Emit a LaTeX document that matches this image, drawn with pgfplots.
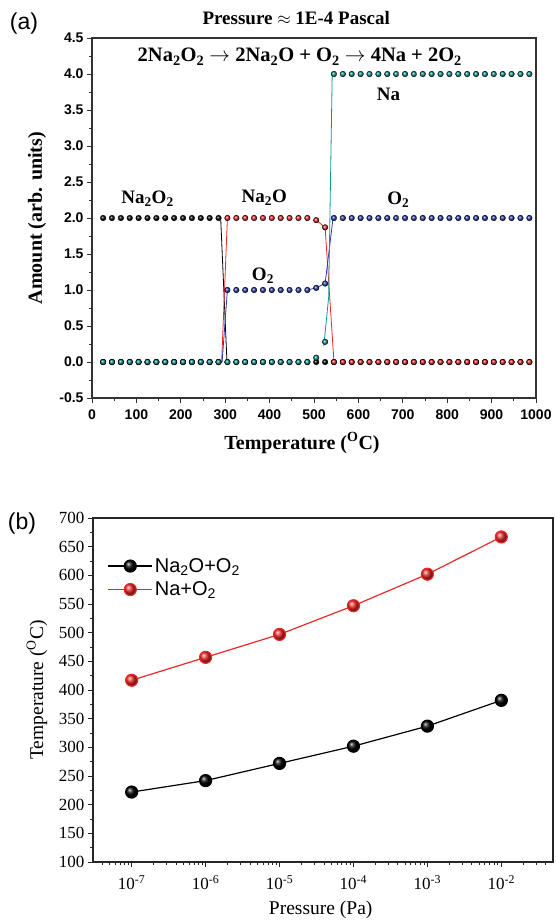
\documentclass[border=0pt]{standalone}
\usepackage{fontspec}
\setmainfont{Liberation Serif}
\setsansfont{Liberation Sans}
\usepackage{pgfplots}
\usepackage{pgfplotstable}
\pgfplotsset{compat=1.18}
\definecolor{cred}{RGB}{235,40,40}
\definecolor{cblue}{RGB}{45,60,170}
\definecolor{cteal}{RGB}{15,150,145}

\pgfplotstableread{
x k r b t
25 2 0 0 0
45 2 0 0 0
65 2 0 0 0
85 2 0 0 0
105 2 0 0 0
125 2 0 0 0
145 2 0 0 0
165 2 0 0 0
185 2 0 0 0
205 2 0 0 0
225 2 0 0 0
245 2 0 0 0
265 2 0 0 0
285 2 0 0 0
305 0 2 1 0
325 0 2 1 0
345 0 2 1 0
365 0 2 1 0
385 0 2 1 0
405 0 2 1 0
425 0 2 1 0
445 0 2 1 0
465 0 2 1 0
485 0 2 1 0
505 0 1.97 1.03 0.06
525 0 1.87 1.09 0.28
545 0 0 2 4
565 0 0 2 4
585 0 0 2 4
605 0 0 2 4
625 0 0 2 4
645 0 0 2 4
665 0 0 2 4
685 0 0 2 4
705 0 0 2 4
725 0 0 2 4
745 0 0 2 4
765 0 0 2 4
785 0 0 2 4
805 0 0 2 4
825 0 0 2 4
845 0 0 2 4
865 0 0 2 4
885 0 0 2 4
905 0 0 2 4
925 0 0 2 4
945 0 0 2 4
965 0 0 2 4
985 0 0 2 4
}\dataA

\begin{document}
\begin{tikzpicture}
\useasboundingbox (0,0) rectangle (555pt,-922pt);
\node[font=\sffamily\fontsize{23}{26}\selectfont] at (24pt,-24pt) {(a)};
\node[font=\sffamily\fontsize{23}{26}\selectfont] at (22pt,-524pt) {(b)};

\begin{axis}[at={(92pt,-398pt)}, anchor=south west, scale only axis,
 width=444pt, height=360pt,
 xmin=0, xmax=1000, ymin=-0.5, ymax=4.5,
 xtick={0,100,...,1000}, minor xtick={50,150,...,950},
 ytick={-0.5,0,...,4.5}, minor ytick={-0.25,0.25,...,4.25},
 tick align=outside, xtick pos=bottom, ytick pos=left,
 major tick length=5pt, minor tick length=3pt,
 axis line style={line width=1.2pt, black!80},
 every tick/.style={line width=1pt, black!80},
 /pgf/number format/assume math mode=true,
 x tick label style={/pgf/number format/1000 sep={}, yshift=-3pt},
 y tick label style={/pgf/number format/.cd, fixed, fixed zerofill, precision=1, /tikz/.cd},
 tick label style={font=\sffamily\bfseries\fontsize{14}{16}\selectfont},
 xlabel={Temperature (\textsuperscript{O}C)}, ylabel={Amount (arb. units)},
 x label style={at={(axis description cs:0.473,-0.125)}, anchor=center, font=\bfseries\fontsize{20}{23}\selectfont},
 y label style={at={(axis description cs:-0.124,0.5)}, rotate=0, anchor=center, font=\bfseries\fontsize{20}{23}\selectfont},
 clip=false,
]
% transition lines
\addplot[black, line width=0.8pt] coordinates {(290,1.97) (304,0)};
\addplot[cred, line width=0.8pt] coordinates {(292,0) (305,2)};
\addplot[cred, line width=0.8pt] coordinates {(505,1.97) (525,1.87) (545,0)};
\addplot[cblue, line width=0.8pt] coordinates {(293,0) (305,1)};
\addplot[cblue, line width=0.8pt] coordinates {(485,1) (505,1.03) (525,1.09) (543,2)};
\addplot[cteal, line width=0.8pt] coordinates {(522,0.22) (533,0.9) (541,4)};
% data points
\addplot[only marks, mark=ball, mark size=2.8pt, mark options={ball color=black}] table[x=x, y=k] {\dataA};
\addplot[only marks, mark=ball, mark size=2.8pt, mark options={ball color=cred}] table[x=x, y=r] {\dataA};
\addplot[only marks, mark=ball, mark size=2.8pt, mark options={ball color=cblue}] table[x=x, y=b] {\dataA};
\addplot[only marks, mark=ball, mark size=2.8pt, mark options={ball color=cteal}] table[x=x, y=t] {\dataA};
% annotations
\begin{scope}[every node/.style={font=\bfseries\fontsize{19}{22}\selectfont}]
\node at (axis cs:460,4.78) {Pressure $\approx$ 1E-4 Pascal};
\node[font=\bfseries\fontsize{20.5}{23}\selectfont] at (axis cs:468,4.24) {2Na\textsubscript{2}O\textsubscript{2} $\rightarrow$ 2Na\textsubscript{2}O + O\textsubscript{2} $\rightarrow$ 4Na + 2O\textsubscript{2}};
\node at (axis cs:125,2.27) {Na\textsubscript{2}O\textsubscript{2}};
\node at (axis cs:388,2.28) {Na\textsubscript{2}O};
\node at (axis cs:385,1.2) {O\textsubscript{2}};
\node at (axis cs:690,2.26) {O\textsubscript{2}};
\node at (axis cs:668,3.72) {Na};
\end{scope}
\end{axis}

\begin{axis}[at={(93pt,-862pt)}, anchor=south west, scale only axis,
 width=460pt, height=344pt,
 xmode=log, xmin=3e-8, xmax=5e-2, ymin=100, ymax=700,
 xtick={1e-7,1e-6,1e-5,1e-4,1e-3,1e-2},
 xticklabels={10\textsuperscript{-7},10\textsuperscript{-6},10\textsuperscript{-5},10\textsuperscript{-4},10\textsuperscript{-3},10\textsuperscript{-2}},
 minor xtick={4e-8,5e-8,6e-8,7e-8,8e-8,9e-8,
  2e-7,3e-7,4e-7,5e-7,6e-7,7e-7,8e-7,9e-7,
  2e-6,3e-6,4e-6,5e-6,6e-6,7e-6,8e-6,9e-6,
  2e-5,3e-5,4e-5,5e-5,6e-5,7e-5,8e-5,9e-5,
  2e-4,3e-4,4e-4,5e-4,6e-4,7e-4,8e-4,9e-4,
  2e-3,3e-3,4e-3,5e-3,6e-3,7e-3,8e-3,9e-3,
  2e-2,3e-2,4e-2},
 ytick={100,150,...,700}, minor ytick={125,175,...,675},
 tick align=outside, xtick pos=bottom, ytick pos=left,
 major tick length=5pt, minor tick length=3pt,
 axis line style={line width=1.2pt, black!85},
 every tick/.style={line width=1pt, black!85},
 /pgf/number format/assume math mode=true,
 tick label style={font=\fontsize{17}{20}\selectfont},
 x tick label style={yshift=-5pt},
 xlabel={Pressure (Pa)}, ylabel={Temperature (\textsuperscript{O}C)},
 x label style={at={(axis description cs:0.495,-0.14)}, anchor=center, font=\fontsize{19.5}{22}\selectfont},
 y label style={at={(axis description cs:-0.122,0.5)}, rotate=0, anchor=center, font=\fontsize{19.5}{22}\selectfont},
 legend style={at={(0.025,0.895)}, anchor=north west, draw=none, fill=none,
   font=\sffamily\fontsize{20}{23}\selectfont, row sep=4pt},
 legend cell align=left,
 legend image code/.code={\draw[mark repeat=2, mark phase=2] plot coordinates {(0pt,0pt) (22pt,0pt) (44pt,0pt)};},
]
\addplot[black, line width=1.2pt, mark=ball, mark size=6pt, mark options={ball color=black}]
 coordinates {(1e-7,222) (1e-6,242) (1e-5,272) (1e-4,302) (1e-3,337) (1e-2,382)};
\addlegendentry{Na\textsubscript{2}O+O\textsubscript{2}}
\addplot[cred, line width=1.2pt, mark=ball, mark size=6pt, mark options={ball color=cred}]
 coordinates {(1e-7,417) (1e-6,457) (1e-5,497) (1e-4,547) (1e-3,602) (1e-2,667)};
\addlegendentry{Na+O\textsubscript{2}}
\end{axis}
\end{tikzpicture}
\end{document}
